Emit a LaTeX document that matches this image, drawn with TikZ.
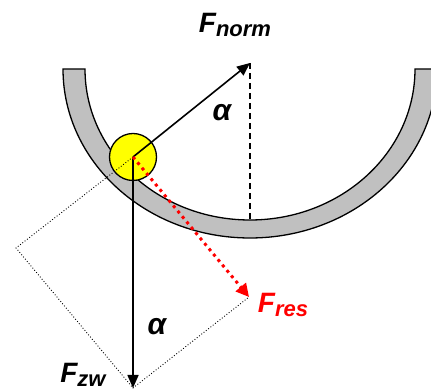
\documentclass[tikz,border=0pt]{standalone}
\usepackage{fontspec}
\setmainfont{Liberation Sans}
\usetikzlibrary{arrows.meta}
\definecolor{bowlgray}{RGB}{192,192,192}
\definecolor{ballyellow}{RGB}{255,255,0}
\tikzset{
  force/.style={line width=1.6pt,-{Triangle[length=13pt,width=11pt]}},
  resforce/.style={red,line width=3pt,dash pattern=on 3pt off 4pt,-{Triangle[length=13pt,width=13pt]}},
  helper/.style={line width=0.9pt,dotted},
  lbl/.style={font=\bfseries\itshape,inner sep=0pt},
}
\newcommand{\forcelabel}[2]{{\fontsize{28}{28}\selectfont F}{\fontsize{22}{22}\selectfont\raisebox{-4pt}{#2}}}
\begin{document}
\begin{tikzpicture}[x=1pt,y=1pt]
\useasboundingbox (0,0) rectangle (431,390);
% bowl
\fill[bowlgray,draw=black,line width=1.3pt]
  (85,321) arc[start angle=180,end angle=360,x radius=165pt,y radius=151pt]
  -- (437,321) arc[start angle=0,end angle=-180,x radius=187pt,y radius=169pt]
  -- cycle;
% coordinates
\coordinate (C) at (133,233);
\coordinate (N) at (250,327);
\coordinate (D) at (250,170);
\coordinate (Z) at (133,2);
\coordinate (R) at (249,93);
\coordinate (L) at (16,142);
% ball
\node[circle,draw=black,line width=1.3pt,fill=ballyellow,minimum size=47pt,inner sep=0pt] (ball) at (C) {};
% helper parallelogram
\draw[helper] (C) -- (L) -- (Z) -- (R);
% dashed vertical
\draw[line width=1.5pt,dash pattern=on 6pt off 4pt] (N) -- (D);
% forces
\draw[force] (C) -- (N);
\draw[force] (C) -- (Z);
\draw[resforce] (C) -- (R);
% labels
\node[lbl] (fnorm) at (235,365) {\forcelabel{F}{norm}};
\node[lbl,red] (fres) at (283,85) {\forcelabel{F}{res}};
\node[lbl] (fzw) at (83,15) {\forcelabel{F}{zw}};
\node[lbl,font=\bfseries\itshape\fontsize{30}{30}\selectfont] (a1) at (222,277) {α};
\node[lbl,font=\bfseries\itshape\fontsize{30}{30}\selectfont] (a2) at (157,63) {α};
\end{tikzpicture}
\end{document}
